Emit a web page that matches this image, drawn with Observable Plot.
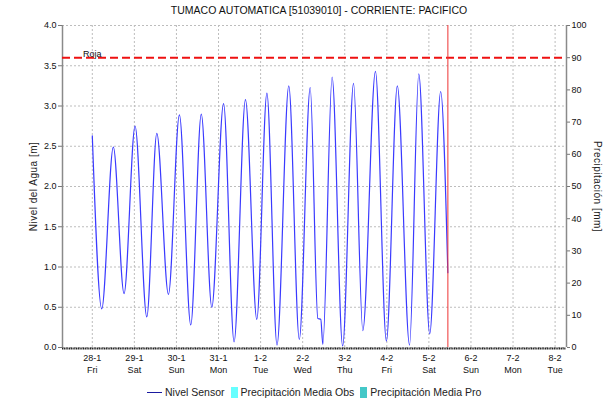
<!DOCTYPE html>
<html>
<head>
<meta charset="utf-8">
<script src="https://cdn.jsdelivr.net/npm/d3@7"></script>
<script src="https://cdn.jsdelivr.net/npm/@observablehq/plot@0.6"></script>
<style>
  body { margin: 0; background: #fff; font-family: "Liberation Sans", Arial, sans-serif; }
  #wrap { position: relative; width: 612px; height: 401px; overflow: hidden; }
  #title { position: absolute; left: 26px; right: 0; top: 4px; text-align: center; font-size: 10.5px; color: #111; }
  #chart { position: absolute; left: 0; top: 20px; }
  #legend { position: absolute; left: 147px; top: 385px; height: 14px; display: flex; align-items: center; font-size: 10.5px; color: #222; white-space: nowrap; }
  .li { display: flex; align-items: center; margin-right: 6px; }
  .ln { width: 15px; height: 0; border-top: 1.3px solid #1a1aa0; margin-right: 3px; }
  .sq { width: 7px; height: 11px; margin-right: 3px; }
</style>
</head>
<body>
<div id="wrap">
  <div id="title"></div>
  <div id="chart"></div>
  <div id="legend"></div>
</div>
<script>
const titleText = "TUMACO AUTOMATICA [51039010] - CORRIENTE: PACIFICO";
const leftLabel = "Nivel del Agua [m]";
const rightLabel = "Precipitación [mm]";

// Water level (extremes)
const levelTimes = [
  "2022-01-28T00:00Z","2022-01-28T05:23Z","2022-01-28T12:00Z","2022-01-28T18:07Z",
  "2022-01-29T00:24Z","2022-01-29T07:05Z","2022-01-29T12:48Z","2022-01-29T19:26Z",
  "2022-01-30T01:41Z","2022-01-30T08:10Z","2022-01-30T14:10Z","2022-01-30T20:10Z",
  "2022-01-31T02:53Z","2022-01-31T08:53Z","2022-01-31T15:22Z","2022-01-31T21:50Z",
  "2022-02-01T03:36Z","2022-02-01T09:22Z","2022-02-01T16:05Z","2022-02-01T22:05Z",
  "2022-02-02T04:19Z","2022-02-02T08:40Z","2022-02-02T10:20Z","2022-02-02T11:30Z","2022-02-02T16:48Z","2022-02-02T22:48Z",
  "2022-02-03T05:02Z","2022-02-03T10:19Z","2022-02-03T17:31Z","2022-02-03T23:46Z",
  "2022-02-04T06:00Z","2022-02-04T12:58Z","2022-02-04T18:14Z",
  "2022-02-05T00:29Z","2022-02-05T06:43Z","2022-02-05T10:48Z"
];
const levelValues = [
  2.63, 0.48, 2.49, 0.67,
  2.75, 0.38, 2.66, 0.66,
  2.89, 0.28, 2.90, 0.50,
  3.03, 0.07, 3.08, 0.35,
  3.16, 0.03, 3.25, 0.10,
  3.23, 0.36, 0.35, 0.04, 3.36, 0.02,
  3.28, 0.21, 3.43, 0.08,
  3.25, 0.03, 3.40,
  0.17, 3.18, 0.93
];

const dayTicks = ["2022-01-28","2022-01-29","2022-01-30","2022-01-31","2022-02-01","2022-02-02",
  "2022-02-03","2022-02-04","2022-02-05","2022-02-06","2022-02-07","2022-02-08"];
const dayLabels = ["28-1\nFri","29-1\nSat","30-1\nSun","31-1\nMon","1-2\nTue","2-2\nWed",
  "3-2\nThu","4-2\nFri","5-2\nSat","6-2\nSun","7-2\nMon","8-2\nTue"];
const leftTicks = [0, 0.5, 1, 1.5, 2, 2.5, 3, 3.5, 4];
const rightTicks = [0, 10, 20, 30, 40, 50, 60, 70, 80, 90, 100];
const leftMax = 4;
const rightMax = 100;
const xStart = "2022-01-27T07:00Z";
const xEnd = "2022-02-08T06:30Z";
const alertLevel = 3.6;
const alertLabel = "Roja";
const alertLabelTime = "2022-01-28T00:00Z";
const nowTime = "2022-02-05T10:50Z";

const legendItems = [
  {label: "Nivel Sensor", kind: "line", color: "#1a1aa0"},
  {label: "Precipitación Media Obs", kind: "box", color: "#66ffff"},
  {label: "Precipitación Media Pro", kind: "box", color: "#44c8c8"}
];

document.getElementById("title").textContent = titleText;

const level = levelTimes.map((t, i) => ({t: new Date(t), v: levelValues[i]}));
const days = dayTicks.map(d => new Date(d + "T00:00Z"));
const toLeft = d => d * leftMax / rightMax;

const chart = Plot.plot({
  width: 612,
  height: 360,
  marginLeft: 62,
  marginRight: 46,
  marginTop: 5,
  marginBottom: 33,
  style: {fontFamily: "Liberation Sans, Arial, sans-serif", fontSize: "9px", color: "#111", background: "#fff"},
  x: {type: "utc", domain: [new Date(xStart), new Date(xEnd)], axis: null},
  y: {domain: [0, leftMax], axis: null},
  marks: [
    Plot.gridY(leftTicks, {stroke: "#bdbdbd", strokeOpacity: 1, strokeDasharray: "2,2"}),
    Plot.gridX(days, {stroke: "#bdbdbd", strokeOpacity: 1, strokeDasharray: "2,2"}),
    Plot.ruleX([new Date(xStart), new Date(xEnd)], {stroke: "#8a8a8a", strokeWidth: 1.5}),
    Plot.ruleY([0], {stroke: "#222", strokeWidth: 2.2, strokeDasharray: "1.2,0.55", dy: 1}),
    Plot.axisY(leftTicks, {anchor: "left", tickFormat: d => d.toFixed(1), tickSize: 4, tickPadding: 2, stroke: "#777", fontSize: 9, label: null}),
    Plot.axisY(rightTicks, {anchor: "right", y: toLeft, text: d => String(d), tickSize: 3, tickPadding: 2, stroke: "#777", fontSize: 9, label: null}),
    Plot.axisX(days, {anchor: "bottom", text: dayLabels, tickSize: 0, tickPadding: 5, fontSize: 9, lineHeight: 1.33, label: null}),
    Plot.text([leftLabel], {frameAnchor: "left", textAnchor: "middle", rotate: -90, dx: -29, fontSize: 10, fill: "#222", style: "letter-spacing:0.5px"}),
    Plot.text([rightLabel], {frameAnchor: "right", textAnchor: "middle", rotate: 90, dx: 31, fontSize: 10, fill: "#222"}),
    Plot.ruleY([alertLevel], {stroke: "#ee1111", strokeWidth: 2, strokeDasharray: "8,4"}),
    Plot.text([alertLabel], {x: () => new Date(alertLabelTime), y: () => alertLevel, lineAnchor: "bottom", dy: -1, fontSize: 9, fill: "#111"}),
    Plot.line(level, {x: "t", y: "v", stroke: "#3a3aff", strokeWidth: 1.2, curve: "monotone-x"}),
    Plot.ruleX([new Date(nowTime)], {stroke: "#ee3333", strokeWidth: 1})
  ]
});
document.getElementById("chart").appendChild(chart);
chart.querySelectorAll("text").forEach(t => {
  if (t.textContent === leftLabel || t.textContent === rightLabel) t.style.letterSpacing = "0.5px";
});

const legend = document.getElementById("legend");
for (const it of legendItems) {
  const el = document.createElement("div");
  el.className = "li";
  const sw = document.createElement("div");
  if (it.kind === "line") { sw.className = "ln"; sw.style.borderTopColor = it.color; }
  else { sw.className = "sq"; sw.style.background = it.color; }
  const tx = document.createElement("span");
  tx.textContent = it.label;
  el.appendChild(sw); el.appendChild(tx);
  legend.appendChild(el);
}
</script>
</body>
</html>
